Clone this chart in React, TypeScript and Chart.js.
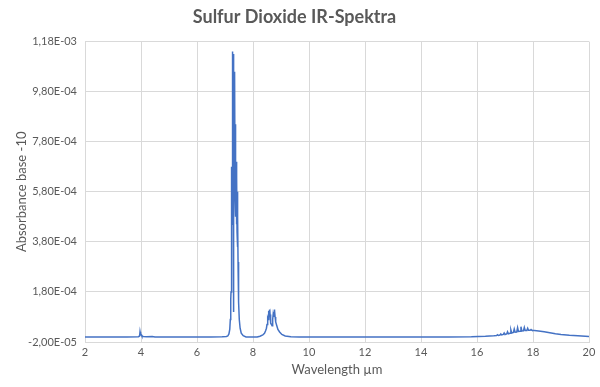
import { useEffect, useRef } from "react";
import { Chart, registerables } from "chart.js";

Chart.register(...registerables);

const FONT = "Lato, 'Open Sans', sans-serif";
const TEXT = "#595959";
const LINE = "#4472C4";
const GRID = "#d9d9d9";

const chartTitle = "Sulfur Dioxide IR-Spektra";
const xTitle = "Wavelength µm";
const yTitle = "Absorbance base -10";

const xTicks = [2, 4, 6, 8, 10, 12, 14, 16, 18, 20];
const yTicks = [-2e-5, 1.8e-4, 3.8e-4, 5.8e-4, 7.8e-4, 9.8e-4, 1.18e-3];

// wavelength in µm
const wavelength = [
  2.0, 3.0, 3.5, 3.91, 3.95, 3.965, 3.975, 3.985, 3.995, 4.01, 4.03, 4.08, 4.2, 4.4, 4.5,
  5.5, 6.5, 6.9, 7.05, 7.1, 7.14, 7.17, 7.19, 7.205, 7.215, 7.225,
  7.23, 7.235, 7.24, 7.245, 7.25, 7.255, 7.26, 7.265, 7.27, 7.275, 7.28, 7.285, 7.29, 7.295,
  7.3, 7.305, 7.31, 7.315, 7.32, 7.325, 7.33, 7.335, 7.34, 7.345, 7.35, 7.355, 7.36, 7.365,
  7.37, 7.375, 7.38, 7.385, 7.39, 7.4, 7.41, 7.42, 7.43, 7.44, 7.45, 7.46, 7.47, 7.48, 7.49,
  7.51, 7.54, 7.58, 7.65, 7.75,
  8.15, 8.25, 8.35, 8.41, 8.45, 8.48, 8.5, 8.52, 8.53, 8.54, 8.55, 8.56, 8.57, 8.58, 8.59,
  8.6, 8.61, 8.62, 8.64, 8.66, 8.68, 8.695, 8.71, 8.72, 8.73, 8.74, 8.75, 8.76, 8.77, 8.78,
  8.79, 8.8, 8.82, 8.85, 8.89, 8.95, 9.03, 9.15, 9.35, 9.65,
  11.0, 13.0, 15.0, 15.8, 16.3, 16.6, 16.7, 16.73, 16.76, 16.82, 16.85, 16.88,
  16.94, 16.97, 17.0, 17.06, 17.09, 17.12, 17.18, 17.21, 17.24, 17.3, 17.33, 17.36,
  17.42, 17.45, 17.48, 17.54, 17.57, 17.6, 17.66, 17.69, 17.72, 17.78, 17.81, 17.84,
  17.9, 17.93, 17.96, 18.05, 18.2, 18.4, 18.6, 18.8, 19.0, 19.3, 19.6, 20.0,
];

// absorbance (base 10)
const absorbance = [
  0, 0, 0, 0.000001, 0.000004, 0.000021, 0.000012, 0.000016, 0.000008, 0.000009, 0.000004, 0.000002, 0.000001, 0.000002, 0,
  0, 0, 0.000001, 0.000002, 0.000004, 0.000012, 0.00003, 0.00007, 0.00015, 0.00018, 0.00032,
  0.0002, 0.00048, 0.0003, 0.00068, 0.00045, 0.0009, 0.0006, 0.00114, 0.0007, 0.001, 0.00065, 0.00112, 0.00075, 0.00095,
  0.0004, 0.0001, 0.0006, 0.00113, 0.0008, 0.00106, 0.00072, 0.001, 0.00065, 0.00095, 0.0006, 0.00106, 0.00055, 0.00085,
  0.00052, 0.0008, 0.0005, 0.00076, 0.00048, 0.0007, 0.00045, 0.00064, 0.00042, 0.00058, 0.00036, 0.00048, 0.00026, 0.0003, 0.00014,
  0.00007, 0.000035, 0.000015, 0.000005, 0,
  0, 0.000003, 0.000008, 0.000015, 0.000025, 0.000035, 0.00005, 0.00006, 0.000075, 0.00007, 0.00009, 0.00008, 0.000105, 0.00009, 0.00011,
  0.00008, 0.00009, 0.00006, 0.000055, 0.00005, 0.000045, 0.00006, 0.00007, 0.00009, 0.00008, 0.0001, 0.00009, 0.00011, 0.000095, 0.000105,
  0.00008, 0.00008, 0.00006, 0.000045, 0.00003, 0.00002, 0.00001, 0.000004, 0.000001, 0,
  0, 0, 0, 0.000001, 0.000003, 0.000005, 0.000006, 0.000009, 0.000006, 0.000008, 0.000012, 0.000008,
  0.00001, 0.000016, 0.00001, 0.000012, 0.000021, 0.000013, 0.000015, 0.000028, 0.000016, 0.000018, 0.000032, 0.000019,
  0.00002, 0.000037, 0.000022, 0.000023, 0.000041, 0.000024, 0.000025, 0.000038, 0.000026, 0.000026, 0.000035, 0.000027,
  0.000027, 0.00003, 0.000027, 0.000026, 0.000024, 0.000021, 0.000017, 0.000013, 0.00001, 0.000007, 0.000005, 0.000002,
];

function formatSci(v: number): string {
  const s = v.toExponential(2);
  const [mant, expStr] = s.split("e");
  const e = parseInt(expStr, 10);
  const sign = e < 0 ? "-" : "+";
  const abs = Math.abs(e);
  return mant.replace(".", ",") + "E" + sign + (abs < 10 ? "0" + abs : String(abs));
}

export default function App() {
  const ref = useRef<HTMLCanvasElement | null>(null);

  useEffect(() => {
    document.body.style.margin = "0";
    const canvas = ref.current;
    if (!canvas) return;
    const points = wavelength.map((x, i) => ({ x, y: absorbance[i] }));
    const chart = new Chart(canvas, {
      type: "line",
      data: {
        datasets: [
          {
            data: points,
            borderColor: LINE,
            borderWidth: 1.5,
            pointRadius: 0,
            tension: 0,
            fill: false,
          },
        ],
      },
      options: {
        responsive: false,
        animation: false,
        layout: { padding: { left: 0, right: 11, top: 0, bottom: 0 } },
        plugins: {
          legend: { display: false },
          tooltip: { enabled: false },
          title: {
            display: true,
            text: chartTitle,
            color: TEXT,
            font: { family: FONT, size: 18, weight: "bold" },
            padding: { top: 6, bottom: 14 },
          },
        },
        scales: {
          x: {
            type: "linear",
            min: 2,
            max: 20,
            afterBuildTicks: (scale: any) => {
              scale.ticks = xTicks.map((v) => ({ value: v }));
            },
            afterFit: (scale: any) => {
              scale.height = 45;
            },
            ticks: {
              color: TEXT,
              font: { family: FONT, size: 11 },
              padding: 4,
              maxRotation: 0,
              autoSkip: false,
            },
            grid: { color: GRID, drawTicks: false },
            border: { color: GRID },
            title: {
              display: true,
              text: xTitle,
              color: TEXT,
              font: { family: FONT, size: 13 },
              padding: { top: 0, bottom: 9 },
            },
          },
          y: {
            type: "linear",
            min: -2e-5,
            max: 1.18e-3,
            afterBuildTicks: (scale: any) => {
              scale.ticks = yTicks.map((v) => ({ value: v }));
            },
            afterFit: (scale: any) => {
              scale.width = 85;
            },
            ticks: {
              color: TEXT,
              font: { family: FONT, size: 11 },
              padding: 8,
              callback: (v: any) => formatSci(Number(v)),
            },
            grid: { color: GRID, drawTicks: false },
            border: { display: false },
            title: {
              display: true,
              text: yTitle,
              color: TEXT,
              font: { family: FONT, size: 13 },
              padding: { top: 14, bottom: 0 },
            },
          },
        },
      },
    });
    return () => chart.destroy();
  }, []);

  return (
    <div style={{ width: 600, height: 387 }}>
      <canvas ref={ref} width={600} height={387} />
    </div>
  );
}
